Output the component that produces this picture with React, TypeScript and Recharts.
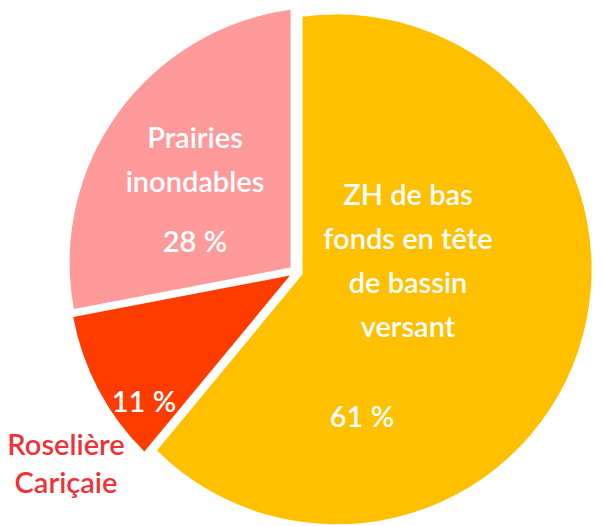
import { PieChart, Pie, Cell } from 'recharts';

const SLICE_NAMES = ['ZH de bas fonds en tête de bassin versant', 'Roselière Cariçaie', 'Prairies inondables'];
const SLICE_VALUES = [61, 11, 28];
const NAME_LINES = [
  ['ZH de bas', 'fonds en tête', 'de bassin', 'versant'],
  ['Roselière', 'Cariçaie'],
  ['Prairies', 'inondables'],
];
const PCT_LABELS = ['61 %', '11 %', '28 %'];

const COLORS = ['#FFC000', '#FF3C00', '#FF9A9A'];

const data = SLICE_NAMES.map((name, i) => ({ name, value: SLICE_VALUES[i], fill: COLORS[i] }));

// where each slice's texts sit, relative to the pie centre
const LABEL_LAYOUT = [
  { nx: 78, ny: -62, lh: 44, nameColor: '#FFFFFF', px: 32, py: 160 },
  { nx: -264, ny: 188, lh: 38, nameColor: '#EE3338', px: -186, py: 145 },
  { nx: -135, ny: -119, lh: 44, nameColor: '#FFFFFF', px: -135, py: -15 },
];

const RAD = Math.PI / 180;
const APEX_DX = -34;
const APEX_DY = 5;
const EXPLODE = 7;

const dir = (a: number) => [Math.cos(-a * RAD), Math.sin(-a * RAD)];

// ray from the apex to the outer circle
function hit(vx: number, vy: number, a: number, cx: number, cy: number, r: number) {
  const [ux, uy] = dir(a);
  const wx = vx - cx;
  const wy = vy - cy;
  const b = ux * wx + uy * wy;
  const c = wx * wx + wy * wy - r * r;
  const t = -b + Math.sqrt(b * b - c);
  return [vx + t * ux, vy + t * uy];
}

function Slice(props: any) {
  const { cx, cy, outerRadius: r, startAngle, endAngle, midAngle, fill } = props;
  const vx = cx + APEX_DX;
  const vy = cy + APEX_DY;
  const [x1, y1] = hit(vx, vy, startAngle, cx, cy, r);
  const [x2, y2] = hit(vx, vy, endAngle, cx, cy, r);
  const a1 = Math.atan2(y1 - cy, x1 - cx);
  const a2 = Math.atan2(y2 - cy, x2 - cx);
  let sweep = a2 - a1;
  while (sweep < 0) sweep += Math.PI * 2;
  const large = sweep > Math.PI ? 1 : 0;
  const [ox, oy] = dir(midAngle);
  return (
    <g transform={`translate(${ox * EXPLODE},${oy * EXPLODE})`}>
      <path
        d={`M${vx},${vy} L${x1},${y1} A${r},${r} 0 ${large} 1 ${x2},${y2} Z`}
        fill={fill}
        stroke="none"
      />
    </g>
  );
}

const FONT = 'Lato, "Open Sans", sans-serif';

function SliceLabel(props: any) {
  const { cx, cy, index } = props;
  const l = LABEL_LAYOUT[index];
  return (
    <g>
      {NAME_LINES[index].map((line, i) => (
        <text
          key={line}
          x={cx + l.nx}
          y={cy + l.ny + i * l.lh}
          textAnchor="middle"
          fill={l.nameColor}
          fontFamily={FONT}
          fontSize={29}
          fontWeight={600}
        >
          {line}
        </text>
      ))}
      <text
        x={cx + l.px}
        y={cy + l.py}
        textAnchor="middle"
        fill="#FFFFFF"
        fontFamily={FONT}
        fontSize={29}
        fontWeight={600}
      >
        {PCT_LABELS[index]}
      </text>
    </g>
  );
}

export default function App() {
  return (
    <div style={{ position: 'absolute', left: 0, top: 0, width: 602, height: 526, background: '#fff' }}>
      <PieChart width={602} height={526} margin={{ top: 0, right: 0, bottom: 0, left: 0 }}>
        <Pie
          data={data}
          dataKey="value"
          nameKey="name"
          cx={330}
          cy={267}
          outerRadius={255}
          startAngle={90}
          endAngle={-270}
          stroke="none"
          isAnimationActive={false}
          shape={Slice}
          activeShape={Slice}
          inactiveShape={Slice}
          label={SliceLabel}
          labelLine={false}
        >
          {data.map((d) => (
            <Cell key={d.name} fill={d.fill} />
          ))}
        </Pie>
      </PieChart>
    </div>
  );
}
